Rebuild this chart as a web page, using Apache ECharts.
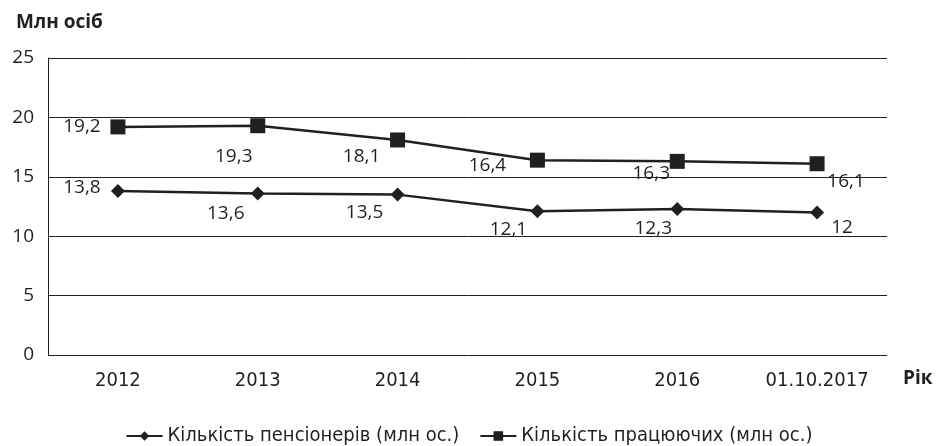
<!DOCTYPE html>
<html>
<head>
<meta charset="utf-8">
<script src="https://cdn.jsdelivr.net/npm/echarts@6/dist/echarts.min.js"></script>
<style>
  html, body { margin: 0; padding: 0; background: #fff; }
  #chart { width: 938px; height: 446px; }
</style>
</head>
<body>
<div id="chart"></div>
<script>
// categories and values
const years = ['2012', '2013', '2014', '2015', '2016', '01.10.2017']
const pensioners = [13.8, 13.6, 13.5, 12.1, 12.3, 12]
const workers = [19.2, 19.3, 18.1, 16.4, 16.3, 16.1]
const yTicks = [0, 5, 10, 15, 20, 25]

const INK = '#231f20'
const NUM_FONT = '"Open Sans", "Noto Sans", sans-serif'
const COND_FONT = '"DejaVu Sans Condensed", "Liberation Sans Narrow", sans-serif'

// where each value label sits relative to its point
const workerLabelOffsets = [[-36, 0], [-24, 31], [-36, 17], [-50, 5], [-26, 12], [29, 18]]
const pensionerLabelOffsets = [[-36, -3], [-32, 20], [-33, 18], [-29, 18], [-24, 20], [25, 15]]

function withLabels(values, offsets) {
  return values.map((v, i) => ({
    value: v,
    label: { offset: offsets[i] }
  }))
}

const fmt = p => String(p.value).replace('.', ',')

const chart = echarts.init(document.getElementById('chart'))
chart.setOption({
  animation: false,
  grid: { left: 48, right: 51, top: 58, bottom: 91 },
  title: {
    text: 'Млн осіб',
    left: 11, top: 8,
    textStyle: { fontFamily: NUM_FONT, fontWeight: 'bold', fontSize: 19, color: INK }
  },
  graphic: [{
    type: 'text', left: 903, top: 369,
    style: { text: 'Рік', font: 'bold 19px "Open Sans", sans-serif', fill: INK }
  }],
  legend: {
    top: 426,
    left: 'center',
    padding: 0,
    itemWidth: 36,
    itemHeight: 12,
    itemGap: 20,
    textStyle: { fontFamily: COND_FONT, fontSize: 20, color: INK },
    data: ['Кількість пенсіонерів (млн ос.)', 'Кількість працюючих (млн ос.)']
  },
  xAxis: {
    type: 'category',
    data: years,
    axisLine: { show: false },
    axisTick: { show: false },
    axisLabel: { fontFamily: COND_FONT, fontSize: 20, color: INK, margin: 16 }
  },
  yAxis: {
    type: 'value',
    min: yTicks[0],
    max: yTicks[yTicks.length - 1],
    interval: 5,
    axisLine: { show: true, lineStyle: { color: INK, width: 1 } },
    axisTick: { show: false },
    splitLine: { lineStyle: { color: INK, width: 1 } },
    axisLabel: { fontFamily: NUM_FONT, fontSize: 19, color: INK, margin: 14 }
  },
  series: [
    {
      name: 'Кількість пенсіонерів (млн ос.)',
      type: 'line',
      data: withLabels(pensioners, pensionerLabelOffsets),
      symbol: 'diamond',
      symbolSize: 14,
      lineStyle: { color: INK, width: 2.5 },
      itemStyle: { color: INK },
      label: {
        show: true, position: 'inside', formatter: fmt,
        fontFamily: NUM_FONT, fontSize: 19, color: INK
      }
    },
    {
      name: 'Кількість працюючих (млн ос.)',
      type: 'line',
      data: withLabels(workers, workerLabelOffsets),
      symbol: 'rect',
      symbolSize: 15,
      lineStyle: { color: INK, width: 2.5 },
      itemStyle: { color: INK },
      label: {
        show: true, position: 'inside', formatter: fmt,
        fontFamily: NUM_FONT, fontSize: 19, color: INK
      }
    }
  ]
})
</script>
</body>
</html>
